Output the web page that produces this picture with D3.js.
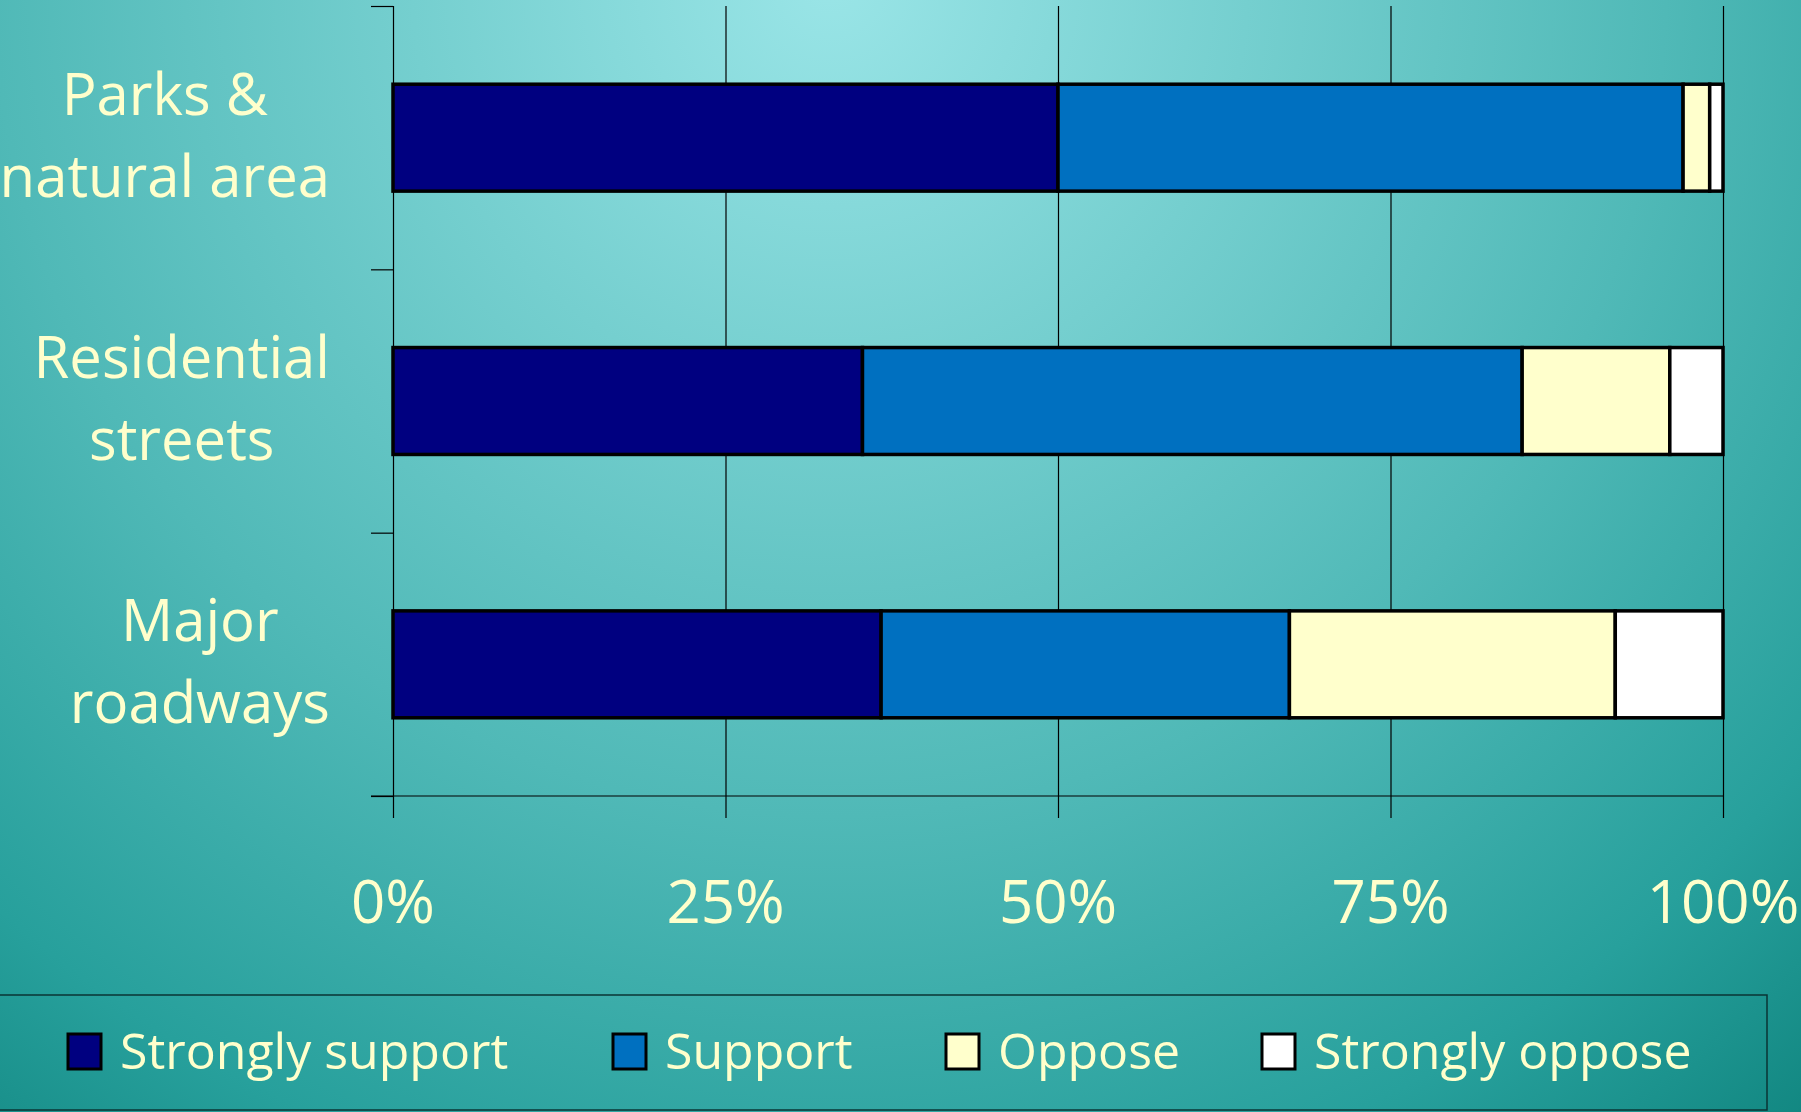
<!DOCTYPE html>
<html>
<head>
<meta charset="utf-8">
<script src="https://cdn.jsdelivr.net/npm/d3@7"></script>
<style>
  html, body { margin: 0; padding: 0; overflow: hidden; }
  svg { display: block; }
  .label { fill: #ffffcc; font-family: "Comic Sans MS", "Open Sans", sans-serif; }
</style>
</head>
<body>
<svg id="chart" width="1801" height="1112"></svg>
<script>

////////////////////////// DATA //////////////////////////

const categories = ['Parks & natural area', 'Residential streets', 'Major roadways']
const categoryLines = [['Parks &', 'natural area'], ['Residential', 'streets'], ['Major', 'roadways']]
const seriesNames = ['Strongly support', 'Support', 'Oppose', 'Strongly oppose']
const seriesColors = ['#000080', '#0070c0', '#ffffcc', '#ffffff']

const stronglySupport = [50, 35.3, 36.7]
const support = [47, 49.6, 30.7]
const oppose = [2, 11.1, 24.5]
const stronglyOppose = [1, 4, 8.1]

const tickValues = [0, 0.25, 0.5, 0.75, 1]
const tickLabels = ['0%', '25%', '50%', '75%', '100%']


////////////////////////// SETUP //////////////////////////

const width = 1801
const height = 1112
const plotLeft = 393, plotRight = 1723
const plotTop = 6, plotBottom = 796

const svg = d3.select('#chart')

// background gradient
const defs = svg.append('defs')
const grad = defs.append('radialGradient')
  .attr('id', 'bg')
  .attr('gradientUnits', 'userSpaceOnUse')
  .attr('cx', 830).attr('cy', -20).attr('r', 1520)
grad.append('stop').attr('offset', 0).attr('stop-color', '#9ae5e7')
grad.append('stop').attr('offset', 0.55).attr('stop-color', '#50b9b7')
grad.append('stop').attr('offset', 0.82).attr('stop-color', '#27a09c')
grad.append('stop').attr('offset', 1).attr('stop-color', '#10857f')

svg.append('rect')
  .attr('width', width).attr('height', height)
  .attr('fill', 'url(#bg)')

// build stacked table
const table = categories.map((c, i) => ({
  category: c,
  'Strongly support': stronglySupport[i] / 100,
  'Support': support[i] / 100,
  'Oppose': oppose[i] / 100,
  'Strongly oppose': stronglyOppose[i] / 100
}))
const stacked = d3.stack().keys(seriesNames)(table)

// scales
const xScale = d3.scaleLinear().domain([0, 1]).range([plotLeft, plotRight])
const yScale = d3.scaleBand().domain(categories).range([plotTop, plotBottom])
  .paddingInner(0.594).paddingOuter(0.297)
const yBound = d3.scaleLinear().domain([0, categories.length]).range([plotTop, plotBottom])
const colorScale = d3.scaleOrdinal().domain(seriesNames).range(seriesColors)


////////////////////////// GRID & AXES //////////////////////////

// vertical grid lines (run a bit below the axis like tick marks)
svg.append('g')
  .attr('transform', `translate(0,${plotTop})`)
  .call(d3.axisBottom(xScale)
    .tickValues(tickValues)
    .tickSize(plotBottom - plotTop + 22)
    .tickFormat(''))
  .call(g => g.select('.domain').remove())
  .selectAll('line')
    .attr('stroke', '#000')
    .attr('stroke-width', 1.2)

// horizontal axis line
svg.append('line')
  .attr('x1', plotLeft - 22).attr('x2', plotRight)
  .attr('y1', plotBottom).attr('y2', plotBottom)
  .attr('stroke', '#000').attr('stroke-width', 1.2)

// category boundary ticks on the left
svg.append('g')
  .attr('transform', `translate(${plotLeft},0)`)
  .call(d3.axisLeft(yBound)
    .tickValues(d3.range(categories.length + 1))
    .tickSize(22)
    .tickFormat(''))
  .call(g => g.select('.domain').remove())
  .selectAll('line')
    .attr('stroke', '#000')
    .attr('stroke-width', 1.2)

// x tick labels
svg.append('g')
  .selectAll('text')
  .data(tickValues)
  .enter()
  .append('text')
  .attr('class', 'label')
  .attr('x', (d) => xScale(d))
  .attr('y', 923)
  .attr('text-anchor', 'middle')
  .style('font-size', '60px')
  .text((d, i) => tickLabels[i])


////////////////////////// BARS //////////////////////////

svg.append('g')
  .selectAll('g')
  .data(stacked)
  .enter()
  .append('g')
  .attr('fill', (d) => colorScale(d.key))
  .selectAll('rect')
  .data((d) => d)
  .enter()
  .append('rect')
  .attr('x', (d) => xScale(d[0]))
  .attr('y', (d) => yScale(d.data.category))
  .attr('width', (d) => xScale(d[1]) - xScale(d[0]))
  .attr('height', yScale.bandwidth())
  .attr('stroke', '#000')
  .attr('stroke-width', 3.5)


////////////////////////// CATEGORY LABELS //////////////////////////

const labelRight = 330
categories.forEach((c, i) => {
  const cy = yScale(c) + yScale.bandwidth() / 2
  const g = svg.append('g')
  const texts = g.selectAll('text')
    .data(categoryLines[i])
    .enter()
    .append('text')
    .attr('class', 'label')
    .attr('text-anchor', 'middle')
    .style('font-size', '58px')
    .attr('y', (d, j) => cy - 23 + j * 82)
    .text((d) => d)
  // block is right aligned, lines centered within it
  const maxW = d3.max(texts.nodes(), (n) => n.getComputedTextLength())
  texts.attr('x', labelRight - maxW / 2)
})


////////////////////////// LEGEND //////////////////////////

svg.append('rect')
  .attr('x', -4).attr('y', 995)
  .attr('width', 1771).attr('height', 115)
  .attr('fill', 'none')
  .attr('stroke', '#0a3434')
  .attr('stroke-width', 1.5)

// swatch left edges, as placed in the original legend
const legendXs = [68, 613, 946, 1262]

const legendItems = svg.append('g')
  .selectAll('g')
  .data(seriesNames)
  .enter()
  .append('g')
  .attr('transform', (d, i) => `translate(${legendXs[i]},0)`)

legendItems.append('rect')
  .attr('y', 1034)
  .attr('width', 33).attr('height', 35)
  .attr('fill', (d) => colorScale(d))
  .attr('stroke', '#000')
  .attr('stroke-width', 3)

legendItems.append('text')
  .attr('class', 'label')
  .attr('x', 52)
  .attr('y', 1069)
  .style('font-size', '50px')
  .text((d) => d)

</script>
</body>
</html>
